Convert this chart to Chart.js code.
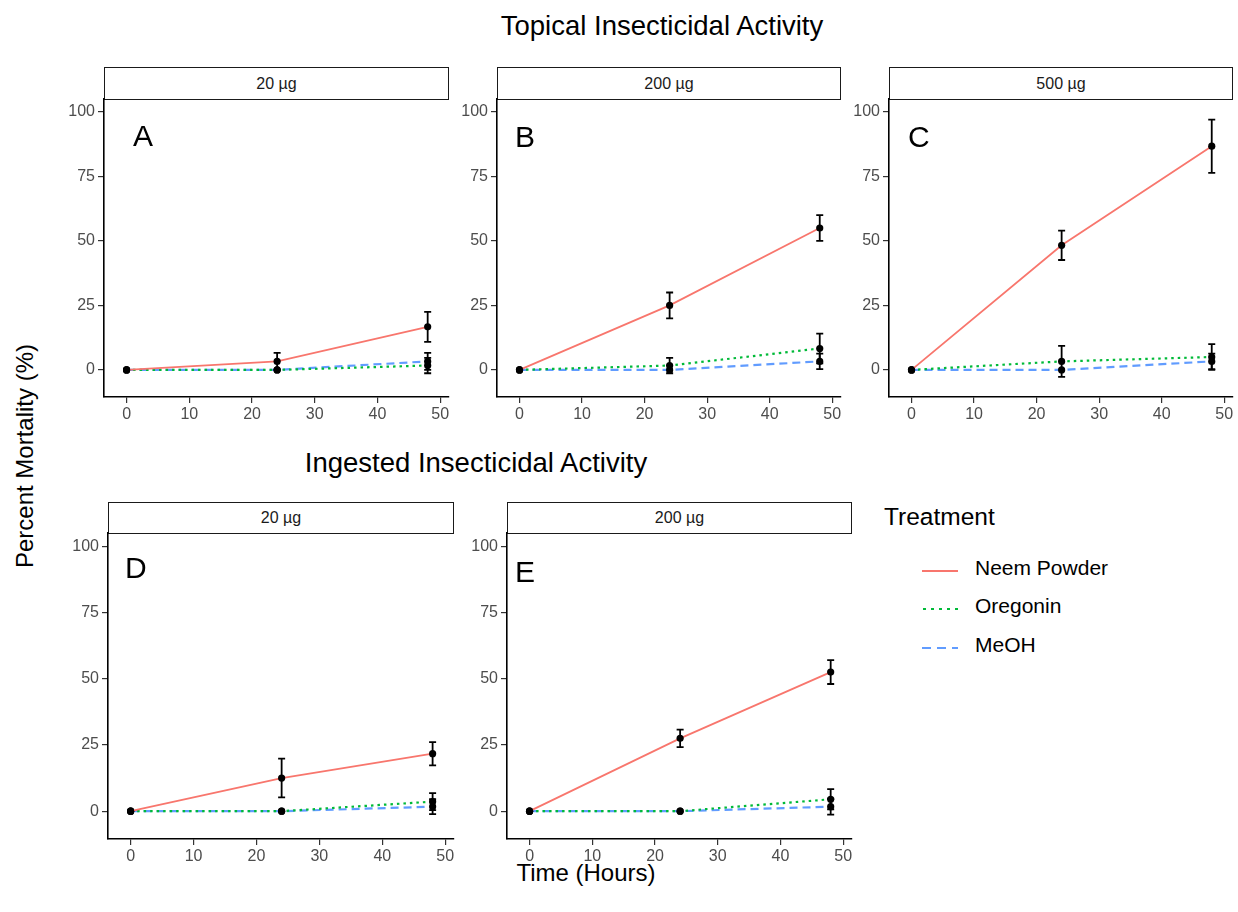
<!doctype html>
<html lang="en">
  <head>
    <meta charset="utf-8">
    <title>Insecticidal Activity</title>
    <script src="https://cdn.jsdelivr.net/npm/chart.js"></script>
    <style>
      html, body { margin: 0; padding: 0; background: #fff; }
      body { font-family: "Liberation Sans", Arial, Helvetica, sans-serif; color: #000; }
      #fig { position: relative; width: 1238px; height: 912px; overflow: hidden; }
      #fig canvas { position: absolute; }
      .strip {
        position: absolute; box-sizing: border-box; border: 1.6px solid #1a1a1a; background: #fff;
        font-size: 16px; color: #1a1a1a; display: flex; align-items: center; justify-content: center;
      }
      .title { position: absolute; font-size: 27.5px; white-space: nowrap; transform: translate(-50%, -50%); }
      .letter { position: absolute; font-size: 30px; line-height: 1; transform: translateY(-50%); }
      .axtitle { position: absolute; font-size: 24px; white-space: nowrap; transform: translate(-50%, -50%); }
      #legend { position: absolute; left: 884px; top: 503px; }
      #legend .head { font-size: 24.5px; }
      #legend .item { position: absolute; left: 38px; width: 220px; height: 30px; }
      #legend .item svg { position: absolute; left: 0; top: 14px; }
      #legend .item span { position: absolute; left: 53px; top: 1px; font-size: 21px; white-space: nowrap; }
    </style>
  </head>
  <body>
    <div id="fig">
      <div class="title" style="left:662px; top:26px;">Topical Insecticidal Activity</div>
      <div class="title" style="left:476px; top:463px;">Ingested Insecticidal Activity</div>
      <div class="axtitle" style="left:25px; top:456px; transform: translate(-50%, -50%) rotate(-90deg);">Percent Mortality (%)</div>
      <div class="axtitle" style="left:586px; top:873px;">Time (Hours)</div>

      <div id="legend">
        <div class="head">Treatment</div>
        <div class="item" style="top:52px;">
          <svg width="36" height="4"><line x1="0" y1="2" x2="36" y2="2" stroke="#F8766D" stroke-width="2"/></svg>
          <span>Neem Powder</span>
        </div>
        <div class="item" style="top:90px;">
          <svg width="36" height="4"><line x1="1" y1="2" x2="36" y2="2" stroke="#00BA38" stroke-width="2.2" stroke-dasharray="3 5"/></svg>
          <span>Oregonin</span>
        </div>
        <div class="item" style="top:129px;">
          <svg width="36" height="4"><line x1="0" y1="2" x2="36" y2="2" stroke="#619CFF" stroke-width="2.2" stroke-dasharray="9 6"/></svg>
          <span>MeOH</span>
        </div>
      </div>
    </div>

    <script>
      // shared axes
      const hours = [0, 24, 48]
      const xTicks = [0, 10, 20, 30, 40, 50]
      const yTicks = [0, 25, 50, 75, 100]

      // A - topical 20 ug
      const neemA = [0, 3.3, 16.7], neemAErr = [0, 3.3, 5.8]
      const oreA = [0, 0, 1.7], oreAErr = [0, 0, 3.0]
      const meohA = [0, 0, 3.3], meohAErr = [0, 0, 3.3]

      // B - topical 200 ug
      const neemB = [0, 25, 55], neemBErr = [0, 5, 5]
      const oreB = [0, 1.7, 8.3], oreBErr = [0, 3.0, 5.8]
      const meohB = [0, 0, 3.3], meohBErr = [0, 0, 3.0]

      // C - topical 500 ug
      const neemC = [0, 48.3, 86.7], neemCErr = [0, 5.7, 10.3]
      const oreC = [0, 3.3, 5], oreCErr = [0, 6.0, 5.0]
      const meohC = [0, 0, 3.3], meohCErr = [0, 0, 3.0]

      // D - ingested 20 ug
      const neemD = [0, 12.5, 21.7], neemDErr = [0, 7.3, 4.4]
      const oreD = [0, 0, 3.6], oreDErr = [0, 0, 3.2]
      const meohD = [0, 0, 1.7], meohDErr = [0, 0, 2.8]

      // E - ingested 200 ug
      const neemE = [0, 27.5, 52.5], neemEErr = [0, 3.3, 4.5]
      const oreE = [0, 0, 4.5], oreEErr = [0, 0, 3.8]
      const meohE = [0, 0, 1.7], meohEErr = [0, 0, 3.0]

      const Fig = document.getElementById('fig')

      const errorBars = {
        id: 'errorBars',
        afterDatasetsDraw(chart) {
          const { ctx, scales: { x, y } } = chart
          ctx.save()
          ctx.strokeStyle = '#000'
          ctx.lineWidth = 1.8
          chart.data.datasets.forEach(ds => {
            ds.err.forEach((e, i) => {
              if (!e) return
              const px = x.getPixelForValue(ds.data[i].x)
              const top = y.getPixelForValue(ds.data[i].y + e)
              const bot = y.getPixelForValue(ds.data[i].y - e)
              ctx.beginPath()
              ctx.moveTo(px, top); ctx.lineTo(px, bot)
              ctx.moveTo(px - 3.5, top); ctx.lineTo(px + 3.5, top)
              ctx.moveTo(px - 3.5, bot); ctx.lineTo(px + 3.5, bot)
              ctx.stroke()
            })
          })
          ctx.restore()
        }
      }

      function series(label, vals, errs, color, dash, width) {
        return {
          label: label,
          data: hours.map((h, i) => ({ x: h, y: vals[i] })),
          err: errs,
          borderColor: color,
          borderWidth: width,
          borderDash: dash,
          pointRadius: 3.6,
          pointBackgroundColor: '#000',
          pointBorderColor: '#000',
          pointBorderWidth: 0,
          tension: 0,
          fill: false
        }
      }

      function makePanel(box, strip, letter, neem, neemErr, ore, oreErr, meoh, meohErr) {
        const padTop = 10, padRight = box.padRight || 10, yW = 48, xH = 30
        const cw = box.R - box.L, ch = box.B - box.T

        const s = document.createElement('div')
        s.className = 'strip'
        s.style.cssText = `left:${box.L}px; top:${box.T - box.stripH}px; width:${cw}px; height:${box.stripH + 1}px;`
        s.textContent = strip
        Fig.appendChild(s)

        const canvas = document.createElement('canvas')
        canvas.width = yW + cw + padRight
        canvas.height = padTop + ch + xH
        canvas.style.left = (box.L - yW) + 'px'
        canvas.style.top = (box.T - padTop) + 'px'
        Fig.appendChild(canvas)

        const l = document.createElement('div')
        l.className = 'letter'
        l.style.left = letter.x + 'px'
        l.style.top = letter.y + 'px'
        l.textContent = letter.t
        Fig.appendChild(l)

        const noPad = sc => { sc.paddingLeft = 0; sc.paddingRight = 0; sc.paddingTop = 0; sc.paddingBottom = 0 }
        const gridOpts = { drawOnChartArea: false, drawTicks: true, tickLength: 6, color: '#333', lineWidth: 1.2 }
        const tickFont = { family: '"Liberation Sans", Arial, sans-serif', size: 16 }

        new Chart(canvas, {
          type: 'line',
          data: {
            datasets: [
              series('Neem Powder', neem, neemErr, '#F8766D', [], 1.8),
              series('Oregonin', ore, oreErr, '#00BA38', [2.5, 4], 2.2),
              series('MeOH', meoh, meohErr, '#619CFF', [8, 5], 2.2)
            ]
          },
          options: {
            responsive: false,
            animation: false,
            devicePixelRatio: 1,
            layout: { padding: { top: padTop, right: padRight, left: 0, bottom: 0 } },
            plugins: { legend: { display: false }, tooltip: { enabled: false } },
            scales: {
              x: {
                type: 'linear', min: -3.6, max: 51.4,
                afterBuildTicks: sc => { sc.ticks = xTicks.map(v => ({ value: v })) },
                afterFit: sc => { sc.height = xH; noPad(sc) },
                grid: gridOpts,
                border: { display: true, color: '#000', width: 1.6 },
                ticks: { color: '#4d4d4d', font: tickFont, padding: 2, maxRotation: 0 }
              },
              y: {
                type: 'linear', min: -10.5, max: 105,
                afterBuildTicks: sc => { sc.ticks = yTicks.map(v => ({ value: v })) },
                afterFit: sc => { sc.width = yW; noPad(sc) },
                grid: gridOpts,
                border: { display: true, color: '#000', width: 1.6 },
                ticks: { color: '#4d4d4d', font: tickFont, padding: 3 }
              }
            }
          },
          plugins: [errorBars]
        })
      }

      makePanel({ L: 104, R: 449, T: 99, B: 397, stripH: 32 }, '20 µg', { t: 'A', x: 133, y: 136 },
        neemA, neemAErr, oreA, oreAErr, meohA, meohAErr)
      makePanel({ L: 497, R: 841, T: 99, B: 397, stripH: 32 }, '200 µg', { t: 'B', x: 515, y: 137 },
        neemB, neemBErr, oreB, oreBErr, meohB, meohBErr)
      makePanel({ L: 889, R: 1233, T: 99, B: 397, stripH: 32, padRight: 5 }, '500 µg', { t: 'C', x: 908, y: 137 },
        neemC, neemCErr, oreC, oreCErr, meohC, meohCErr)
      makePanel({ L: 108, R: 454, T: 533, B: 839, stripH: 31 }, '20 µg', { t: 'D', x: 125, y: 568 },
        neemD, neemDErr, oreD, oreDErr, meohD, meohDErr)
      makePanel({ L: 507, R: 852, T: 533, B: 839, stripH: 31 }, '200 µg', { t: 'E', x: 515, y: 572 },
        neemE, neemEErr, oreE, oreEErr, meohE, meohEErr)
    </script>
  </body>
</html>
